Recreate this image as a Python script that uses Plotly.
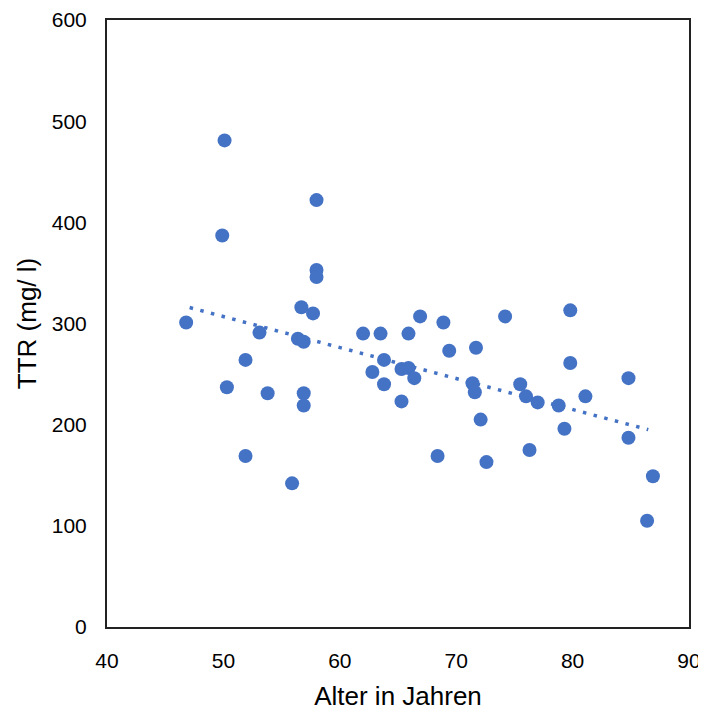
import numpy as np
import plotly.graph_objects as go

age = [46.8, 50.1, 49.9, 50.3, 51.9, 51.9, 53.1, 53.8, 55.9, 56.7, 56.4, 56.9, 56.9, 56.9,
       57.7, 58.0, 58.0, 58.0, 62.0, 62.8, 63.5, 63.8, 63.8, 65.3, 65.3, 65.9, 65.9, 66.4,
       66.9, 68.9, 68.4, 69.4, 71.4, 71.7, 71.6, 72.1, 72.6, 74.2, 75.5, 76.0, 76.3, 77.0,
       78.8, 79.3, 79.8, 79.8, 81.1, 84.8, 84.8, 86.4, 86.9]
ttr = [301, 481, 387, 237, 264, 169, 291, 231, 142, 316, 285, 282, 231, 219,
       310, 422, 353, 346, 290, 252, 290, 264, 240, 255, 223, 290, 256, 246,
       307, 301, 169, 273, 241, 276, 232, 205, 163, 307, 240, 228, 175, 222,
       219, 196, 313, 261, 228, 246, 187, 105, 149]

x_ticks = [40, 50, 60, 70, 80, 90]
y_ticks = [0, 100, 200, 300, 400, 500, 600]

slope, intercept = np.polyfit(age, ttr, 1)
trend_x = [min(age) + 0.3, max(age) - 0.4]
trend_y = [slope * v + intercept for v in trend_x]

fig = go.Figure()
fig.add_trace(go.Scatter(x=trend_x, y=trend_y, mode="lines",
                         line=dict(color="#4472C4", width=3.5, dash="3.5px,7.5px"),
                         hoverinfo="skip", showlegend=False))
fig.add_trace(go.Scatter(x=age, y=ttr, mode="markers",
                         marker=dict(color="#4472C4", size=14),
                         showlegend=False))

font_family = "Liberation Sans, Arial, sans-serif"
fig.update_layout(
    width=698, height=705,
    margin=dict(l=99, r=17, t=12, b=86),
    paper_bgcolor="white", plot_bgcolor="white",
    font=dict(family=font_family, color="#000000", size=21),
    xaxis=dict(range=[40, 90], tickvals=x_ticks, showgrid=False, zeroline=False,
               showline=True, linecolor="#222222", linewidth=2, mirror=True,
               ticks="outside", ticklen=14, tickcolor="rgba(0,0,0,0)",
               tickfont=dict(size=21), automargin=False,
               title=dict(text="Alter in Jahren", font=dict(size=26), standoff=16)),
    yaxis=dict(range=[0, 600], tickvals=y_ticks, showgrid=False, zeroline=False,
               showline=True, linecolor="#222222", linewidth=2, mirror=True,
               ticks="outside", ticklen=14, tickcolor="rgba(0,0,0,0)",
               tickfont=dict(size=21), automargin=False,
               title=dict(text="TTR (mg/ l)", font=dict(size=26), standoff=8)),
)
fig.write_html("out.html")
